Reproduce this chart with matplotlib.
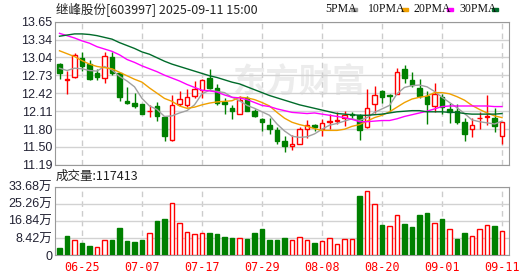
import matplotlib.pyplot as plt
from matplotlib.patches import Rectangle

# K-line data, 2025-06-20 .. 2025-09-11 (60 trading days)
opens = [12.93, 12.64, 12.70, 13.03, 12.93, 12.77, 12.68, 13.05, 12.76, 12.29,
         12.26, 12.23, 12.11, 12.20, 12.01, 11.61, 12.24, 12.22, 12.37, 12.47,
         12.69, 12.51, 12.27, 12.17, 12.07, 12.34, 12.11, 11.98, 11.88, 11.78,
         11.59, 11.51, 11.55, 11.80, 11.87, 11.81, 11.93, 11.95, 11.99, 12.07,
         12.04, 11.83, 12.24, 12.46, 12.39, 12.41, 12.83, 12.64, 12.51, 12.37,
         12.20, 12.36, 12.14, 12.12, 11.93, 11.80, 11.99, 12.01, 12.00, 11.68]
highs = [12.94, 12.80, 13.12, 13.13, 12.99, 12.83, 13.13, 13.13, 12.76, 12.53,
         12.43, 12.24, 12.22, 12.27, 12.03, 12.39, 12.45, 12.49, 12.63, 12.66,
         12.83, 12.57, 12.34, 12.22, 12.37, 12.37, 12.14, 12.00, 12.00, 11.83,
         11.68, 11.70, 11.84, 11.96, 11.89, 11.98, 12.06, 12.10, 12.12, 12.10,
         12.07, 12.50, 12.54, 12.47, 12.41, 12.86, 12.90, 12.79, 12.67, 12.46,
         12.60, 12.41, 12.26, 12.23, 12.00, 12.00, 12.10, 12.39, 12.17, 11.93]
lows = [12.67, 12.41, 12.69, 12.80, 12.64, 12.64, 12.59, 12.73, 12.29, 12.24,
        12.17, 12.06, 12.01, 11.94, 11.60, 11.60, 12.20, 12.18, 12.34, 12.34,
        12.49, 12.22, 12.06, 11.97, 12.06, 12.12, 12.01, 11.77, 11.72, 11.55,
        11.41, 11.44, 11.54, 11.65, 11.77, 11.69, 11.80, 11.89, 11.85, 11.97,
        11.61, 11.82, 12.08, 12.26, 12.10, 12.40, 12.59, 12.53, 12.34, 11.89,
        12.10, 12.06, 11.91, 11.89, 11.60, 11.67, 11.80, 11.88, 11.76, 11.55]
closes = [12.76, 12.66, 13.08, 12.89, 12.67, 12.70, 13.06, 12.76, 12.36, 12.26,
          12.20, 12.07, 12.12, 12.03, 11.69, 12.22, 12.32, 12.35, 12.50, 12.65,
          12.51, 12.26, 12.23, 12.12, 12.31, 12.12, 12.02, 11.92, 11.81, 11.60,
          11.51, 11.55, 11.81, 11.87, 11.84, 11.91, 11.94, 11.96, 12.04, 12.05,
          11.78, 12.17, 12.39, 12.35, 12.37, 12.79, 12.69, 12.56, 12.37, 12.24,
          12.40, 12.18, 12.10, 11.93, 11.72, 11.88, 12.00, 12.02, 11.85, 11.93]

ma5 = [12.85, 12.81, 12.85, 12.84, 12.81, 12.80, 12.88, 12.82, 12.71, 12.63,
       12.53, 12.33, 12.20, 12.14, 12.02, 12.03, 12.08, 12.12, 12.22, 12.41,
       12.47, 12.45, 12.43, 12.35, 12.29, 12.21, 12.16, 12.10, 12.04, 11.89,
       11.77, 11.68, 11.66, 11.67, 11.72, 11.80, 11.87, 11.90, 11.94, 11.98,
       11.95, 12.00, 12.09, 12.15, 12.21, 12.41, 12.52, 12.55, 12.56, 12.53,
       12.45, 12.35, 12.26, 12.17, 12.07, 11.96, 11.93, 11.91, 11.89, 11.94]
ma10 = [13.15, 13.10, 13.05, 12.98, 12.92, 12.88, 12.86, 12.84, 12.78, 12.72,
        12.66, 12.61, 12.51, 12.42, 12.33, 12.28, 12.20, 12.16, 12.18, 12.22,
        12.25, 12.27, 12.28, 12.29, 12.35, 12.34, 12.31, 12.26, 12.20, 12.09,
        11.99, 11.92, 11.88, 11.85, 11.81, 11.78, 11.78, 11.78, 11.80, 11.85,
        11.88, 11.94, 12.00, 12.04, 12.10, 12.18, 12.26, 12.32, 12.35, 12.37,
        12.43, 12.43, 12.41, 12.36, 12.30, 12.21, 12.14, 12.08, 12.03, 12.00]
ma20 = [13.45, 13.41, 13.37, 13.32, 13.28, 13.22, 13.18, 13.14, 13.08, 13.00,
        12.95, 12.89, 12.84, 12.79, 12.73, 12.68, 12.63, 12.57, 12.52, 12.47,
        12.46, 12.44, 12.39, 12.35, 12.34, 12.31, 12.26, 12.21, 12.19, 12.15,
        12.12, 12.09, 12.08, 12.07, 12.08, 12.06, 12.04, 12.02, 12.00, 11.97,
        11.93, 11.93, 11.94, 11.95, 11.95, 11.98, 12.02, 12.05, 12.08, 12.11,
        12.15, 12.19, 12.20, 12.20, 12.20, 12.20, 12.20, 12.20, 12.19, 12.19]
ma30 = [13.40, 13.42, 13.44, 13.44, 13.43, 13.41, 13.38, 13.35, 13.29, 13.24,
        13.19, 13.13, 13.09, 13.03, 12.97, 12.92, 12.88, 12.84, 12.80, 12.76,
        12.72, 12.69, 12.65, 12.61, 12.58, 12.53, 12.48, 12.43, 12.38, 12.34,
        12.30, 12.26, 12.22, 12.19, 12.16, 12.13, 12.10, 12.07, 12.06, 12.05,
        12.04, 12.04, 12.05, 12.06, 12.08, 12.10, 12.11, 12.12, 12.12, 12.10,
        12.10, 12.10, 12.09, 12.09, 12.07, 12.06, 12.06, 12.06, 12.06, 12.07]

# volume in units of 10k (万), and whether the bar is drawn red (up day)
vol = [3.45, 9.37, 7.23, 5.91, 4.44, 3.78, 7.23, 7.39, 13.31, 6.90,
       6.41, 7.39, 10.68, 16.76, 17.74, 25.47, 15.61, 11.17, 10.19, 10.68,
       10.84, 10.35, 8.87, 8.22, 8.22, 7.89, 10.84, 12.82, 7.39, 7.39,
       8.38, 7.23, 8.71, 7.23, 5.91, 6.74, 8.22, 5.26, 7.72, 7.72,
       29.00, 31.38, 24.97, 14.79, 14.13, 19.72, 15.28, 13.80, 19.72, 20.54,
       15.61, 17.74, 12.65, 7.72, 10.84, 9.20, 12.65, 14.62, 14.13, 11.74]
vol_up = [0, 0, 1, 0, 0, 1, 1, 0, 0, 0,
          0, 0, 1, 0, 0, 1, 1, 1, 1, 1,
          0, 0, 0, 0, 1, 0, 0, 0, 0, 0,
          0, 1, 1, 1, 0, 1, 1, 1, 1, 1,
          0, 1, 1, 0, 1, 1, 0, 0, 0, 0,
          1, 0, 1, 0, 0, 1, 1, 1, 0, 1]

date_labels = ['06-25', '07-07', '07-17', '07-29', '08-08', '08-20', '09-01', '09-11']
date_pos = [3, 11, 19, 27, 35, 43, 51, 59]
price_ticks = [11.19, 11.50, 11.80, 12.11, 12.42, 12.73, 13.04, 13.34, 13.65]
vol_ticks = [0, 8.42, 16.84, 25.26, 33.68]
vol_tick_labels = ['0', '8.42万', '16.84万', '25.26万', '33.68万']
ma_names = ['5PMA', '10PMA', '20PMA', '30PMA']
ma_colors = ['#a0a0a0', '#f0a000', '#ff00ff', '#006b2a']

RED = '#ff0000'
GREEN = '#008000'
FAM = ['Liberation Sans', 'Noto Sans CJK SC']
W, H = 530, 276

fig = plt.figure(figsize=(W / 100, H / 100), dpi=100)
ax = fig.add_axes([55 / W, 1 - 164.7 / H, 454 / W, 143 / H])
vax = fig.add_axes([55 / W, 1 - 255 / H, 454 / W, 68.3 / H])

idx = list(range(len(closes)))
up = [c >= o for o, c in zip(opens, closes)]
edge = [RED if u else GREEN for u in up]
face = ['white' if u else GREEN for u in up]
bottoms = [min(o, c) for o, c in zip(opens, closes)]
heights = [max(abs(c - o), 0.004) for o, c in zip(opens, closes)]

ax.vlines(idx, lows, highs, colors=edge, lw=1, zorder=2)
ax.bar(idx, heights, bottom=bottoms, width=0.66, color=face, edgecolor=edge,
       linewidth=1, zorder=3)
for ma, col in zip([ma5, ma10, ma20, ma30], ma_colors):
    ax.plot(idx, ma, color=col, lw=1, zorder=4)

# watermark
ax.text(31.9, 12.60, '东方财富', fontsize=24, color='#ececec', ha='center',
        va='center', family='Noto Sans CJK SC', fontweight='bold', zorder=0.5)

for a in (ax, vax):
    a.set_xlim(-0.6, 59.93)
    a.set_xticks(date_pos)
    a.grid(axis='x', color='#cccccc', lw=1, ls=(0, (4, 3)))
    a.grid(axis='y', color='#d2d2d2', lw=1)
    a.set_axisbelow(True)
    for s in a.spines.values():
        s.set_color('#999999')
    a.tick_params(length=0, labelsize=9, labelcolor='#222233', pad=2)

ax.set_ylim(11.19, 13.65)
ax.set_yticks(price_ticks)
ax.set_yticklabels(['%.2f' % v for v in price_ticks], family=FAM)
ax.tick_params(axis='x', labelbottom=False)

vcols = [RED if u else GREEN for u in vol_up]
vface = ['white' if u else GREEN for u in vol_up]
vax.bar(idx, vol, width=0.66, color=vface, edgecolor=vcols, linewidth=1, zorder=3)
vax.set_ylim(0, 33.68)
vax.set_yticks(vol_ticks)
vax.set_yticklabels(vol_tick_labels, family=FAM)
vax.set_xticklabels(date_labels, family='DejaVu Sans Mono', fontsize=8.5, color=RED)
vax.tick_params(axis='x', pad=4)

fig.text(56 / W, 1 - 10 / H, '继峰股份[603997] 2025-09-11 15:00', fontsize=9,
         family='Noto Sans CJK SC', va='center', color='#222222')
fig.text(56 / W, 1 - 176 / H, '成交量:117413', fontsize=9,
         family='Noto Sans CJK SC', va='center', color='#222222')

leg_text_x = [325, 368, 413, 459]
leg_box_x = [351, 402, 447, 492]
for name, col, tx, bx in zip(ma_names, ma_colors, leg_text_x, leg_box_x):
    fig.text(tx / W, 1 - 9.5 / H, name, fontsize=8.5, family='Liberation Serif',
             va='center', color='#111111')
    fig.patches.append(Rectangle((bx / W, 1 - 11 / H), 6 / W, 3.5 / H,
                                 transform=fig.transFigure, color=col))

fig.savefig('out.png', dpi=100)
